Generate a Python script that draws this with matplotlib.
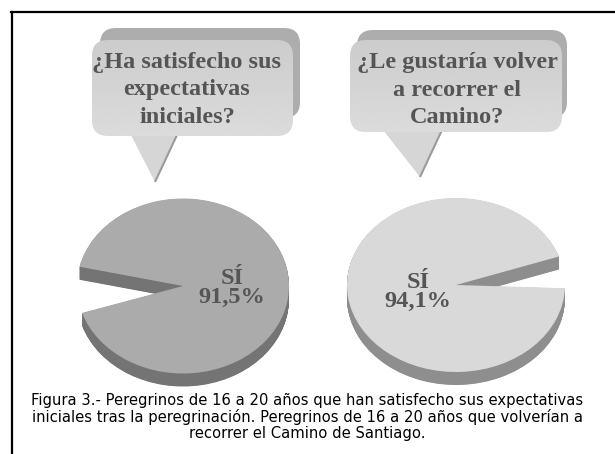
import matplotlib.pyplot as plt
import numpy as np
from matplotlib.patches import FancyBboxPatch, Polygon

W, H = 615, 454

questions = ["¿Ha satisfecho sus\nexpectativas\niniciales?",
             "¿Le gustaría volver\na recorrer el\nCamino?"]
yes_share = [91.5, 94.1]
no_share = [8.5, 5.9]
yes_labels = ["SÍ\n91,5%", "SÍ\n94,1%"]
caption = ("Figura 3.- Peregrinos de 16 a 20 años que han satisfecho sus expectativas\n"
           "iniciales tras la peregrinación. Peregrinos de 16 a 20 años que volverían a\n"
           "recorrer el Camino de Santiago.")

# layout (pixels)
pie_boxes = [(183, 286, 106, 87.5), (456, 285, 109, 87)]   # cx, cy, a, b
gap_dir = [182.6, 8.5]                                      # where the missing slice points
top_col = ["#ababab", "#d9d9d9"]
side_col = ["#747474", "#8e8e8e"]
label_pos = [(0.46, -0.02), (-0.35, -0.08)]
DEPTH = 13

bubbles = [dict(body=(92, 40, 201, 96), shadow=(100, 28, 200, 90),
                tail=[(130, 133), (155, 182), (177, 135)], text=(187, 90)),
           dict(body=(350, 40, 212, 92), shadow=(357, 30, 210, 88),
                tail=[(383, 130), (420, 177), (442, 130)], text=(457, 90))]

fig = plt.figure(figsize=(W / 100, H / 100), dpi=100)
ax = fig.add_axes([0, 0, 1, 1])

for bb, q in zip(bubbles, questions):
    x, y, w, h = bb["shadow"]
    ax.add_patch(FancyBboxPatch((x, y), w, h, boxstyle="round,pad=0,rounding_size=16",
                                fc="#adadad", ec="none"))
    ax.add_patch(Polygon(bb["tail"], closed=True, fc="#d6d6d6", ec="none"))
    t = bb["tail"]
    ax.plot([t[1][0], t[2][0]], [t[1][1], t[2][1]], color="#9a9a9a", lw=1.5,
            solid_capstyle="butt")
    x, y, w, h = bb["body"]
    body = FancyBboxPatch((x, y), w, h, boxstyle="round,pad=0,rounding_size=16",
                          fc="none", ec="none")
    ax.add_patch(body)
    grad = np.linspace(0.80, 0.86, 64).reshape(-1, 1)
    ax.imshow(grad, extent=(x, x + w, y + h, y), origin="upper", cmap="gray",
              vmin=0, vmax=1, aspect="auto", clip_path=body, zorder=2)
    tx, ty = bb["text"]
    ax.text(tx, ty, q, ha="center", va="center", fontsize=17.5, fontweight="bold",
            family="Liberation Serif", color="#555555", linespacing=1.38, zorder=3)

ax.plot([11, W], [12, 12], color="black", lw=1.6)
ax.plot([12, 12], [12, H], color="black", lw=1.6)

ax.text(307, 417, caption, ha="center", va="center", fontsize=10.6,
        family="DejaVu Sans", color="black", linespacing=1.05)

ax.set_xlim(0, W)
ax.set_ylim(H, 0)
ax.set_aspect("auto")
ax.axis("off")

for i in range(2):
    cx, cy, a, b = pie_boxes[i]
    d = DEPTH / b
    pax = fig.add_axes([(cx - a) / W, (H - (cy + b + DEPTH)) / H,
                        2 * a / W, (2 * b + DEPTH) / H])
    vals = [no_share[i], yes_share[i]]
    start = gap_dir[i] - no_share[i] * 3.6 / 2
    for off in np.linspace(d, 0, 30)[:-1]:
        pax.pie(vals, startangle=start, colors=["none", side_col[i]], radius=1,
                center=(0, -off), wedgeprops=dict(linewidth=0))
    pax.pie(vals, startangle=start, colors=["none", top_col[i]], radius=1,
            center=(0, 0), wedgeprops=dict(linewidth=0))
    lx, ly = label_pos[i]
    pax.text(lx, ly, yes_labels[i], ha="center", va="center", fontsize=17.5,
             fontweight="bold", family="Liberation Serif", color="#555555",
             linespacing=0.85)
    pax.set_xlim(-1, 1)
    pax.set_ylim(-1 - d, 1)
    pax.set_aspect("auto")
    pax.axis("off")

fig.savefig("out.png", dpi=100)
